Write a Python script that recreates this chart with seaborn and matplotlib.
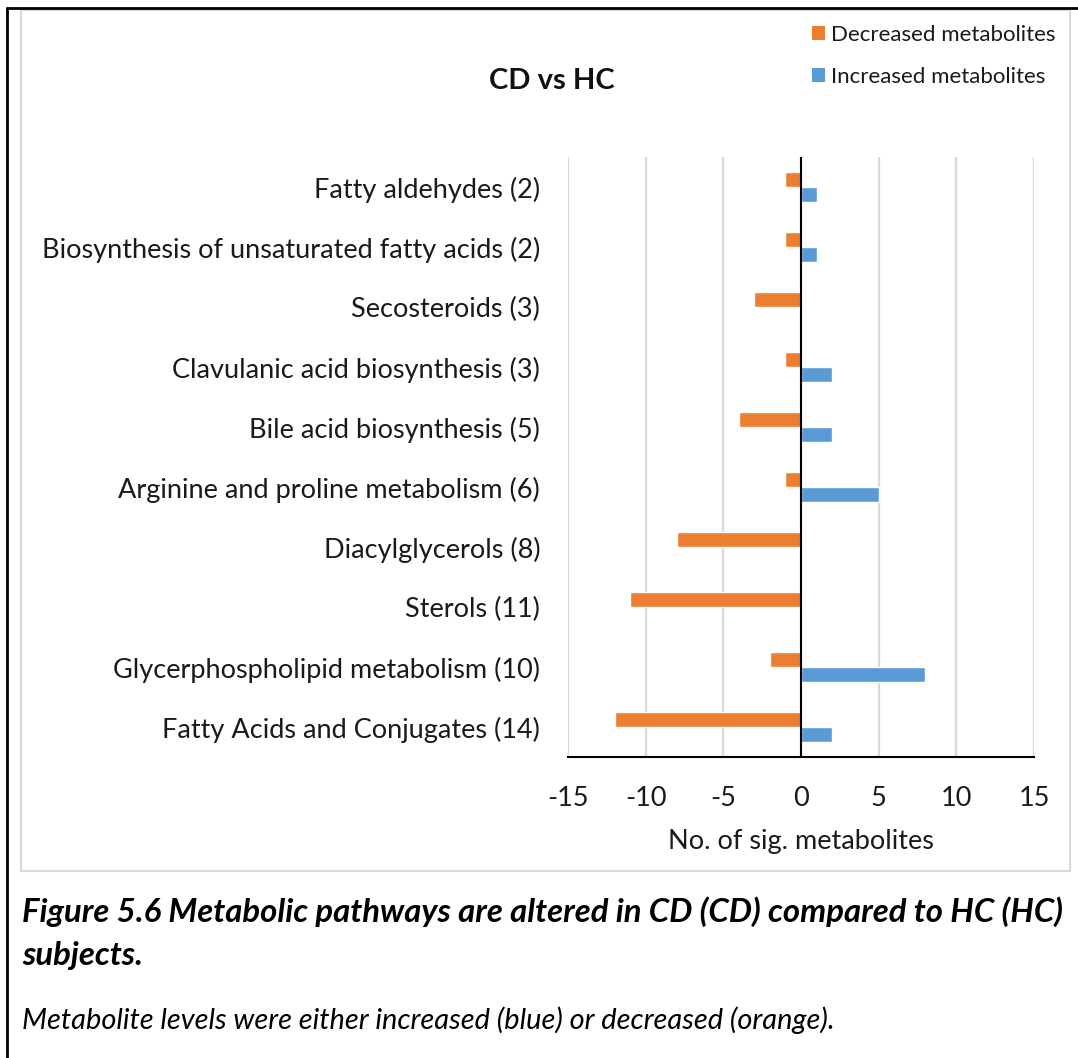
import matplotlib
matplotlib.use("Agg")
import matplotlib.pyplot as plt
import seaborn as sns
import pandas as pd
from matplotlib.patches import Patch, Rectangle
from matplotlib.lines import Line2D

categories = [
    "Fatty aldehydes (2)",
    "Biosynthesis of unsaturated fatty acids (2)",
    "Secosteroids (3)",
    "Clavulanic acid biosynthesis (3)",
    "Bile acid biosynthesis (5)",
    "Arginine and proline metabolism (6)",
    "Diacylglycerols (8)",
    "Sterols (11)",
    "Glycerphospholipid metabolism (10)",
    "Fatty Acids and Conjugates (14)",
]
decreased = [-1, -1, -3, -1, -4, -1, -8, -11, -2, -12]
increased = [1, 1, 0, 2, 2, 5, 0, 0, 8, 2]
series_names = ["Decreased metabolites", "Increased metabolites"]
xticks = [-15, -10, -5, 0, 5, 10, 15]

df = pd.DataFrame({
    "pathway": categories * 2,
    "count": decreased + increased,
    "direction": [series_names[0]] * len(categories) + [series_names[1]] * len(categories),
})

sns.set_theme(style="white")
plt.rcParams["font.family"] = ["Lato", "DejaVu Sans"]

W, H = 1078, 1058
fig = plt.figure(figsize=(W / 100, H / 100), dpi=100)
fig.patch.set_facecolor("white")

# axes placement in pixels
ax_l, ax_r, ax_t, ax_b = 568, 1034, 157, 757
ax = fig.add_axes([ax_l / W, 1 - ax_b / H, (ax_r - ax_l) / W, (ax_b - ax_t) / H])

orange = "#ED7D31"
blue = "#5B9BD5"
sns.barplot(data=df, y="pathway", x="count", hue="direction", order=categories,
            hue_order=series_names, palette=[orange, blue], width=0.5,
            saturation=1, ax=ax, legend=False, orient="h")

ax.set_xlim(-15, 15)
ax.set_xticks(xticks)
ax.set_xticklabels([str(t) for t in xticks], fontsize=19.5, color="#1a1a1a")
ax.tick_params(axis="x", length=0, pad=21)
ax.tick_params(axis="y", length=0, pad=20, labelsize=19.5, labelcolor="#1a1a1a")
ax.set_ylabel("")
ax.set_xlabel("No. of sig. metabolites", fontsize=19.5, color="#1a1a1a", labelpad=13)
ax.grid(axis="x", color="#d9d9d9", linewidth=1.6)
ax.grid(axis="y", visible=False)
ax.set_axisbelow(True)
for s in ["left", "right", "top"]:
    ax.spines[s].set_visible(False)
ax.spines["bottom"].set_color("black")
ax.spines["bottom"].set_linewidth(1.5)
ax.axvline(0, color="black", linewidth=1.5)

# Title
fig.text(552 / W, 1 - 81 / H, "CD vs HC", ha="center", va="center",
         fontsize=21, fontweight="bold", color="#111111")

# Legend
handles = [Patch(facecolor=orange, edgecolor="none"), Patch(facecolor=blue, edgecolor="none")]
fig.legend(handles, series_names, loc="upper left", bbox_to_anchor=(812 / W, 1 - 25 / H),
           frameon=False, fontsize=16, handlelength=0.6, handleheight=0.6,
           handletextpad=0.25, labelspacing=1.0, borderpad=0, borderaxespad=0,
           labelcolor="#1a1a1a")

# Chart box and page border
fig.add_artist(Rectangle((21 / W, 1 - 871 / H), (1070 - 21) / W, (871 - 10) / H,
                         transform=fig.transFigure, fill=False, edgecolor="#d9d9d9", linewidth=1.5))
fig.add_artist(Line2D([7 / W, 1], [1 - 8 / H, 1 - 8 / H], transform=fig.transFigure, color="black", linewidth=2))
fig.add_artist(Line2D([7 / W, 7 / W], [0, 1 - 8 / H], transform=fig.transFigure, color="black", linewidth=2))

# Caption
cap1 = fig.text(22 / W, 1 - 912 / H,
                "Figure 5.6 Metabolic pathways are altered in CD (CD) compared to HC (HC)",
                ha="left", va="center", fontsize=20, fontweight="bold", fontstyle="italic", color="black")
cap2 = fig.text(22 / W, 1 - 955 / H, "subjects.", ha="left", va="center",
                fontsize=20, fontweight="bold", fontstyle="italic", color="black")
cap3 = fig.text(22 / W, 1 - 1020 / H,
                "Metabolite levels were either increased (blue) or decreased (orange).",
                ha="left", va="center", fontsize=20, fontstyle="italic", color="black")

# fit caption widths
fig.canvas.draw()
r = fig.canvas.get_renderer()
w1 = cap1.get_window_extent(r).width
fs = 20 * (1062 - 22) / w1
cap1.set_fontsize(fs)
cap2.set_fontsize(fs)
w3 = cap3.get_window_extent(r).width
cap3.set_fontsize(20 * (835 - 22) / w3)

fig.savefig("out.png", dpi=100, facecolor="white")
